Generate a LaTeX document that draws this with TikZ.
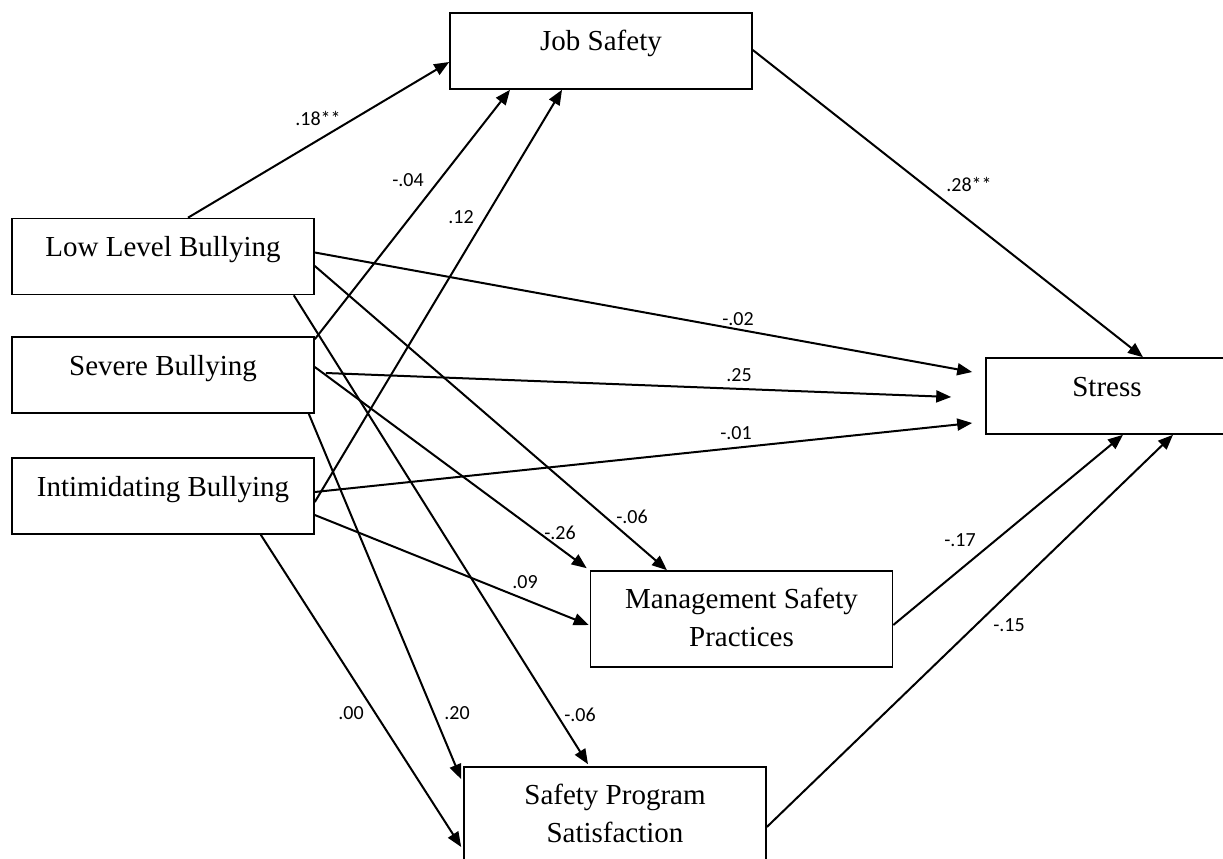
\documentclass[tikz,border=0pt]{standalone}
\usepackage{fontspec}
\setmainfont{Liberation Serif}
\newfontfamily\coeffont{Carlito}
\usepackage{tikz}
\usetikzlibrary{calc,arrows.meta}

\begin{document}
\begin{tikzpicture}[x=1pt,y=-1pt,
        factor/.style={draw, line width=1.6pt, inner sep=0pt, minimum width=302pt,
            font=\fontsize{29}{38}\selectfont, text height=38pt, text depth=38pt},
        factortwo/.style={factor, align=center, text height=75pt, text depth=21pt},
        effect/.style={line width=2pt, -{Triangle[length=15pt,width=12pt]}},
        coef/.style={font=\coeffont\fontsize{20}{24}\selectfont, inner sep=0pt}]
    \useasboundingbox (0,0) rectangle (1223,859);
    % Variables
    \node[factor] (job) at (601,51) {Job Safety};
    \node[factor] (low) at (163,256.5) {Low Level Bullying};
    \node[factor] (sev) at (163,375) {Severe Bullying};
    \node[factor] (intim) at (163,496) {Intimidating Bullying};
    \node[factor, minimum width=242pt] (stress) at (1107,396) {Stress};
    \node[factortwo] (msp) at (741.5,619) {Management Safety\\Practices};
    \node[factortwo] (sps) at (615,815) {Safety Program\\Satisfaction};
    % Paths to job safety
    \draw[effect] ($(low.north)+(25,0)$) -- ($(job.west)+(0,11)$);
    \draw[effect] ($(sev.north east)+(0,3)$) -- ($(job.south)+(-91,0)$);
    \draw[effect] ($(intim.east)+(0,6)$) -- ($(job.south)+(-39,0)$);
    % Paths to stress
    \draw[effect] ($(job.east)+(0,-1)$) -- ($(stress.north)+(36,0)$);
    \draw[effect] ($(low.east)+(0,-4)$) -- ($(stress.west)+(-13,-24)$);
    \draw[effect] ($(sev.east)+(11,-2)$) -- ($(stress.west)+(-34,1)$);
    \draw[effect] ($(intim.east)+(0,-4)$) -- ($(stress.west)+(-13,27)$);
    \draw[effect] ($(msp.east)+(0,6)$) -- ($(stress.south)+(16,0)$);
    \draw[effect] ($(sps.east)+(0,12)$) -- ($(stress.south)+(66,0)$);
    % Paths to management safety practices
    \draw[effect] ($(low.east)+(0,9.5)$) -- ($(msp.north)+(-74.5,0)$);
    \draw[effect] ($(sev.east)+(0,-8)$) -- ($(msp.north west)+(-3,-2)$);
    \draw[effect] ($(intim.east)+(0,19)$) -- ($(msp.west)+(-1,6)$);
    % Paths to safety program satisfaction
    \draw[effect] ($(low.south east)+(-21,0)$) -- ($(sps.north)+(-27,-2)$);
    \draw[effect] ($(sev.south east)+(-6,0)$) -- ($(sps.north west)+(-2,13)$);
    \draw[effect] ($(intim.south east)+(-54,0)$) -- ($(sps.west)+(-2,32)$);
    % Coefficients
    \node[coef] (c1) at (318,118) {.18**};
    \node[coef] (c2) at (408,180) {-.04};
    \node[coef] (c3) at (461,217) {.12};
    \node[coef] (c4) at (969,184) {.28**};
    \node[coef] (c5) at (738,319) {-.02};
    \node[coef] (c6) at (739,375) {.25};
    \node[coef] (c7) at (736,433) {-.01};
    \node[coef] (c8) at (632,517) {-.06};
    \node[coef] (c9) at (560,533) {-.26};
    \node[coef] (c10) at (525,582) {.09};
    \node[coef] (c11) at (960,540) {-.17};
    \node[coef] (c12) at (1009,625) {-.15};
    \node[coef] (c13) at (351,713) {.00};
    \node[coef] (c14) at (457,713) {.20};
    \node[coef] (c15) at (580,715) {-.06};
\end{tikzpicture}
\end{document}
